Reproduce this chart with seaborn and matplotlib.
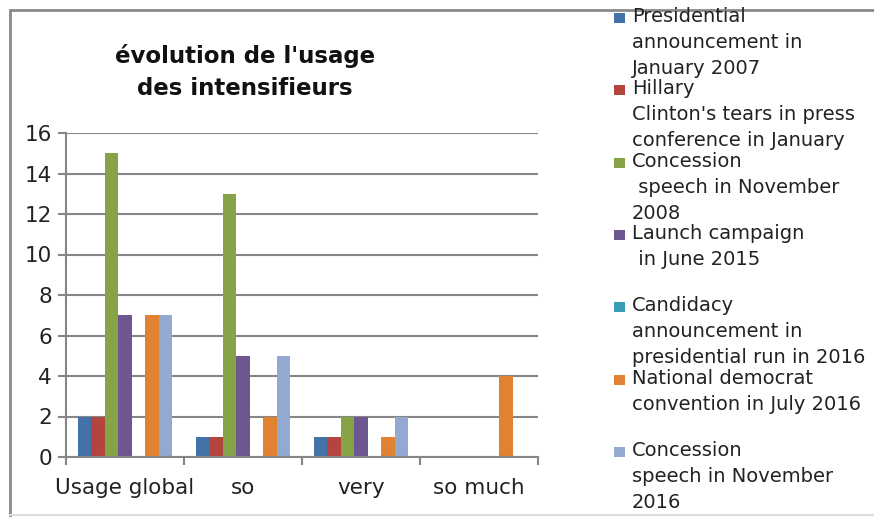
import numpy as np
import pandas as pd
import seaborn as sns
import matplotlib.pyplot as plt
from matplotlib.lines import Line2D
from matplotlib.patches import Rectangle

# categories (x axis) and one list of counts per speech
categories = ['Usage global', 'so', 'very', 'so much']
series_names = [
    'Presidential\nannouncement in\nJanuary 2007',
    "Hillary\nClinton's tears in press\nconference in January",
    'Concession\n speech in November\n2008',
    'Launch campaign\n in June 2015',
    'Candidacy\nannouncement in\npresidential run in 2016',
    'National democrat\nconvention in July 2016',
    'Concession\nspeech in November\n2016',
]
announce_2007 = [2, 1, 1, 0]
tears_2008 = [2, 1, 1, 0]
concession_2008 = [15, 13, 2, 0]
launch_2015 = [7, 5, 2, 0]
candidacy_2016 = [0, 0, 0, 0]
convention_2016 = [7, 2, 1, 4]
concession_2016 = [7, 5, 2, 0]

colors = ['#4372A9', '#B4443E', '#87A348', '#6E5690', '#3A9DB5', '#E08232', '#93A9D1']

values = [announce_2007, tears_2008, concession_2008, launch_2015,
          candidacy_2016, convention_2016, concession_2016]
df = pd.DataFrame({
    'category': categories * len(series_names),
    'series': [s for s in series_names for _ in categories],
    'count': [v for vals in values for v in vals],
})

sns.set_theme(style='white')
plt.rcParams['font.family'] = ['DejaVu Sans']
grid_col = '#868686'

fig = plt.figure(figsize=(8.74, 5.17), dpi=100)
ax = fig.add_axes([66 / 874, 1 - 457 / 517, (538 - 66) / 874, (457 - 133) / 517])

sns.barplot(data=df, x='category', y='count', hue='series', order=categories,
            hue_order=series_names, palette=colors, saturation=1, errorbar=None,
            width=0.8, linewidth=0, legend=False, ax=ax)

ax.set_ylim(0, 16)
ax.set_yticks(range(0, 17, 2))
ax.set_xlim(-0.5, 3.5)
ax.yaxis.grid(True, color=grid_col, linewidth=1.5)
ax.set_axisbelow(True)
ax.set_xlabel('')
ax.set_ylabel('')
for side in ['top', 'right']:
    ax.spines[side].set_visible(False)
for side in ['left', 'bottom']:
    ax.spines[side].set_color(grid_col)
    ax.spines[side].set_linewidth(1.5)

ax.tick_params(axis='y', length=6, width=1.5, color=grid_col, labelsize=15.5, pad=4,
               left=True)
ax.tick_params(axis='x', which='major', length=0, labelsize=15.5, pad=15)
ax.set_xticks(np.arange(-0.5, 4, 1), minor=True)
ax.tick_params(axis='x', which='minor', length=6, width=1.5, color=grid_col,
               bottom=True, direction='out')
for lab in ax.get_xticklabels() + ax.get_yticklabels():
    lab.set_color('#222222')

fig.text(245 / 874, 1 - 72 / 517, "évolution de l'usage\ndes intensifieurs",
         ha='center', va='center', fontsize=16.5, fontweight='bold',
         color='#111111', linespacing=1.5)

# legend, entries with the first text line next to the square
y0 = 18
step = 72.3
for i, (name, col) in enumerate(zip(series_names, colors)):
    yc = y0 + i * step
    fig.add_artist(Rectangle((614 / 874, 1 - (yc + 5) / 517), 11 / 874, 10 / 517,
                             transform=fig.transFigure, color=col, lw=0))
    fig.text(632 / 874, 1 - (yc - 11) / 517, name, ha='left', va='top',
             fontsize=14, color='#222222', linespacing=1.47)

# chart frame
frame = dict(color='#8a8a8a', linewidth=2, transform=fig.transFigure)
fig.add_artist(Line2D([10 / 874, 10 / 874], [0, 1 - 10 / 517], **frame))
fig.add_artist(Line2D([10 / 874, 1], [1 - 10 / 517, 1 - 10 / 517], **frame))
fig.add_artist(Line2D([10 / 874, 1], [2 / 517, 2 / 517], color='#dddddd',
                      linewidth=1.5, transform=fig.transFigure))

fig.savefig('out.png', dpi=100)
